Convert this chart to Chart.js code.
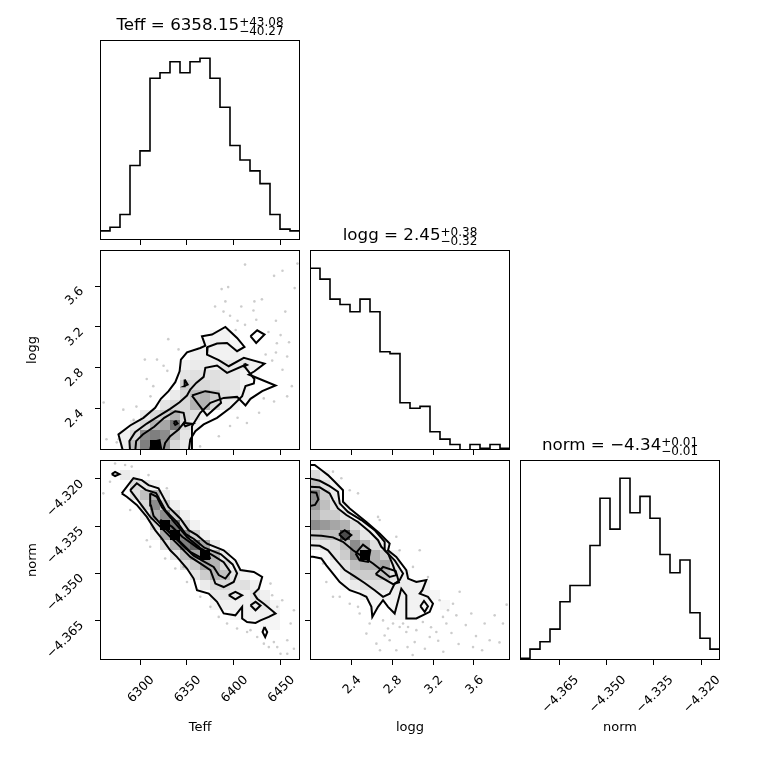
<!DOCTYPE html>
<html>
<head>
<meta charset="utf-8">
<title>corner plot</title>
<script src="https://cdn.jsdelivr.net/npm/chart.js@4.4.1/dist/chart.umd.min.js"></script>
<style>
  html, body { margin: 0; padding: 0; background: #fff; }
  #wrap { position: relative; width: 760px; height: 760px; overflow: hidden; }
  canvas { position: absolute; }
  .ttl { position: absolute; width: 200px; text-align: center; font-family: 'DejaVu Sans'; font-size: 16.7px; line-height: 20px; white-space: nowrap; color: #000; }
  .ss { display: inline-block; vertical-align: -5px; font-size: 12px; line-height: 9.5px; text-align: left; }
  .ss span { display: block; }
</style>
</head>
<body>
<div id="wrap">
  <canvas id="hTeff" width="310" height="310"></canvas>
  <canvas id="hLogg" width="310" height="310"></canvas>
  <canvas id="hNorm" width="310" height="310"></canvas>
  <canvas id="cTeffLogg" width="310" height="310"></canvas>
  <canvas id="cTeffNorm" width="310" height="310"></canvas>
  <canvas id="cLoggNorm" width="310" height="310"></canvas>
</div>
<script>
// parameter titles
const names = ['Teff', 'logg', 'norm'];
const medians = ['6358.15', '2.45', '\u22124.34'];
const errUp = ['+43.08', '+0.38', '+0.01'];
const errDown = ['\u221240.27', '\u22120.32', '\u22120.01'];

// axis ranges and ticks
const teffRange = [6257.1, 6470.7];
const loggRange = [1.995, 3.953];
const normRange = [-4.3776, -4.3140];
const teffTicks = [6300, 6350, 6400, 6450];
const teffTickLabels = ['6300', '6350', '6400', '6450'];
const loggTicks = [2.4, 2.8, 3.2, 3.6];
const loggTickLabels = ['2.4', '2.8', '3.2', '3.6'];
const normTicks = [-4.365, -4.350, -4.335, -4.320];
const normTickLabels = ['\u22124.365', '\u22124.350', '\u22124.335', '\u22124.320'];

// 1D histograms (20 bins each)
const teffCounts = [5, 7, 14, 41, 49, 89, 92, 98, 92, 98, 100, 89, 73, 52, 44, 38, 31, 14, 6, 5];
const loggCounts = [100, 94, 83, 80, 76, 83, 76, 54, 53, 26, 23, 24, 10, 6, 3, 0, 3, 1, 3, 1];
const normCounts = [1, 6, 10, 17, 32, 41, 41, 63, 89, 72, 100, 81, 90, 78, 58, 48, 55, 26, 12, 6];

// 2D density cells: [x bin, y bin, relative density]
const teffLoggCells = [
  [2,0,.08],[3,0,.25],[4,0,.5],[5,0,1],[6,0,.4],[7,0,.15],[8,0,.08],
  [2,1,.06],[3,1,.15],[4,1,.45],[5,1,.5],[6,1,.45],[7,1,.25],[8,1,.1],
  [3,2,.08],[4,2,.15],[5,2,.3],[6,2,.35],[7,2,.55],[8,2,.15],[9,2,.05],
  [4,3,.08],[5,3,.15],[6,3,.2],[7,3,.3],[8,3,.15],[9,3,.12],[10,3,.05],
  [6,4,.1],[7,4,.15],[8,4,.15],[9,4,.3],[10,4,.3],[11,4,.15],[12,4,.08],[13,4,.05],
  [7,5,.08],[8,5,.15],[9,5,.25],[10,5,.3],[11,5,.2],[12,5,.12],[13,5,.08],[14,5,.05],
  [8,6,.2],[9,6,.15],[10,6,.15],[11,6,.12],[12,6,.1],[13,6,.1],[14,6,.05],
  [8,7,.1],[9,7,.12],[10,7,.1],[11,7,.12],[12,7,.1],[13,7,.08],[14,7,.05],[15,7,.04],
  [8,8,.06],[9,8,.08],[10,8,.08],[11,8,.06],[12,8,.1],[13,8,.08],[14,8,.1],[15,8,.05],
  [9,9,.06],[10,9,.06],[11,9,.05],[12,9,.05],[13,9,.06],[14,9,.04],
  [10,10,.04],[11,10,.06],[12,10,.05],[13,10,.04],[11,11,.04],[12,11,.05]
];
const teffNormCells = [
  [2,18,.08],[3,18,.06],
  [3,17,.15],[4,17,.1],[5,17,.05],
  [3,16,.12],[4,16,.25],[5,16,.3],[6,16,.08],
  [4,15,.15],[5,15,.45],[6,15,.2],[7,15,.06],
  [4,14,.06],[5,14,.3],[6,14,.45],[7,14,.2],[8,14,.06],
  [5,13,.15],[6,13,1],[7,13,.55],[8,13,.15],[9,13,.05],
  [5,12,.06],[6,12,.35],[7,12,1],[8,12,.45],[9,12,.2],[10,12,.06],
  [6,11,.12],[7,11,.3],[8,11,.5],[9,11,.6],[10,11,.35],[11,11,.08],
  [7,10,.1],[8,10,.25],[9,10,.35],[10,10,1],[11,10,.3],[12,10,.08],
  [8,9,.12],[9,9,.2],[10,9,.35],[11,9,.3],[12,9,.15],[13,9,.05],
  [9,8,.1],[10,8,.2],[11,8,.3],[12,8,.25],[13,8,.1],[14,8,.05],
  [10,7,.08],[11,7,.15],[12,7,.15],[13,7,.1],[14,7,.12],[15,7,.06],
  [11,6,.08],[12,6,.1],[13,6,.08],[14,6,.06],[15,6,.1],[16,6,.06],
  [11,5,.04],[12,5,.06],[13,5,.06],[14,5,.06],[15,5,.08],[16,5,.1],[17,5,.04],
  [13,4,.04],[14,4,.05],[15,4,.05],[16,4,.06],[17,4,.05],[16,3,.04],[17,3,.04]
];
const loggNormCells = [
  [0,18,.15],[1,18,.06],
  [0,17,.25],[1,17,.12],[2,17,.05],
  [0,16,.45],[1,16,.2],[2,16,.08],
  [0,15,.4],[1,15,.25],[2,15,.12],[3,15,.06],
  [0,14,.3],[1,14,.2],[2,14,.2],[3,14,.1],
  [0,13,.45],[1,13,.4],[2,13,.35],[3,13,.3],[4,13,.12],[5,13,.05],
  [0,12,.2],[1,12,.25],[2,12,.25],[3,12,.7],[4,12,.25],[5,12,.1],[6,12,.05],
  [0,11,.08],[1,11,.1],[2,11,.15],[3,11,.25],[4,11,.45],[5,11,.3],[6,11,.12],[7,11,.06],
  [1,10,.05],[2,10,.1],[3,10,.2],[4,10,.45],[5,10,1],[6,10,.3],[7,10,.2],[8,10,.06],
  [2,9,.06],[3,9,.12],[4,9,.25],[5,9,.3],[6,9,.3],[7,9,.35],[8,9,.1],
  [3,8,.08],[4,8,.2],[5,8,.2],[6,8,.2],[7,8,.25],[8,8,.1],[9,8,.05],
  [3,7,.04],[4,7,.08],[5,7,.12],[6,7,.12],[7,7,.1],[8,7,.08],[9,7,.08],[10,7,.06],[11,7,.05],
  [5,6,.06],[6,6,.06],[7,6,.06],[8,6,.06],[9,6,.06],[10,6,.06],[11,6,.06],[12,6,.04],
  [6,5,.04],[8,5,.05],[9,5,.05],[10,5,.05],[11,5,.04],[13,5,.03],
  [8,4,.04],[9,4,.05],[10,4,.04]
];

// contour rings (outermost first), in data units
const teffLoggContours = [
  [[6282.1,1.97],[6276.8,2.147],[6289.3,2.235],[6303.5,2.310],[6316.0,2.408],[6322.1,2.496],[6330.3,2.571],[6337.5,2.659],[6342.1,2.766],[6343.5,2.880],[6350.0,2.952],[6364.2,2.994],[6369.6,3.017],[6366.0,3.109],[6376.7,3.125],[6391.0,3.200],[6403.5,3.092],[6411.4,3.004],[6403.5,2.962],[6392.8,3.043],[6382.1,3.037],[6372.1,3.004],[6371.4,2.929],[6383.9,2.874],[6394.6,2.815],[6410.7,2.897],[6432.8,2.841],[6422.1,2.766],[6416.0,2.734],[6444.6,2.626],[6430.3,2.571],[6417.8,2.496],[6412.5,2.431],[6403.5,2.515],[6389.2,2.505],[6375.0,2.457],[6364.2,2.359],[6355.3,2.228],[6355.3,1.97]],
  [[6289.3,1.97],[6288.5,2.082],[6294.6,2.170],[6307.1,2.254],[6319.6,2.326],[6332.1,2.398],[6342.1,2.463],[6350.0,2.528],[6353.5,2.587],[6359.9,2.652],[6367.8,2.711],[6369.6,2.799],[6382.1,2.822],[6392.8,2.750],[6410.7,2.822],[6422.0,2.690],[6421.4,2.646],[6412.5,2.620],[6408.9,2.522],[6396.4,2.408],[6382.1,2.310],[6367.8,2.245],[6358.9,2.179],[6353.5,2.098],[6351.7,1.97]],
  [[6294.6,1.97],[6295.7,2.082],[6302.8,2.147],[6315.0,2.222],[6325.7,2.310],[6337.5,2.375],[6346.4,2.359],[6348.2,2.277],[6341.0,2.196],[6332.1,2.131],[6326.7,2.065],[6324.2,1.97]],
  [[6355.3,2.528],[6369.6,2.571],[6383.9,2.548],[6386.4,2.457],[6371.4,2.333],[6362.5,2.440]],
  [[6310.0,1.97],[6312.5,2.072],[6320.7,2.091],[6323.2,1.97]],
  [[6335.7,2.267],[6338.2,2.277],[6340.0,2.254],[6337.5,2.241]],
  [[6345.7,2.261],[6355.3,2.251],[6348.2,2.228]],
  [[6347.5,2.685],[6350.7,2.636],[6347.1,2.620]],
  [[6411.4,2.841],[6414.2,2.828],[6411.4,2.815]],
  [[6417.8,3.109],[6425.0,3.167],[6432.8,3.125],[6423.9,3.043]]
];
const teffNormContours = [
  [[6280.3,-4.3246],[6292.8,-4.3198],[6301.8,-4.3204],[6308.9,-4.3220],[6319.6,-4.3230],[6330.3,-4.3289],[6342.8,-4.3326],[6351.7,-4.3363],[6360.7,-4.3379],[6371.4,-4.3406],[6389.2,-4.3427],[6401.7,-4.3459],[6407.1,-4.3490],[6421.4,-4.3496],[6430.3,-4.3512],[6426.7,-4.3549],[6421.4,-4.3565],[6425.0,-4.3581],[6432.1,-4.3597],[6444.6,-4.3628],[6437.4,-4.3639],[6428.5,-4.3650],[6423.2,-4.3658],[6414.2,-4.3655],[6408.9,-4.3644],[6408.9,-4.3607],[6401.7,-4.3634],[6389.2,-4.3628],[6382.1,-4.3591],[6373.2,-4.3565],[6360.7,-4.3554],[6357.1,-4.3517],[6350.0,-4.3485],[6339.2,-4.3448],[6332.1,-4.3427],[6323.2,-4.3390],[6316.0,-4.3363],[6307.1,-4.3321],[6296.4,-4.3283],[6285.7,-4.3257]],
  [[6289.3,-4.3236],[6296.4,-4.3214],[6306.0,-4.3235],[6317.0,-4.3245],[6327.4,-4.3302],[6339.9,-4.3339],[6348.8,-4.3376],[6357.8,-4.3392],[6368.5,-4.3419],[6386.3,-4.3440],[6398.8,-4.3472],[6403.5,-4.3500],[6399.9,-4.3528],[6389.2,-4.3544],[6380.3,-4.3533],[6375.0,-4.3490],[6364.2,-4.3469],[6353.5,-4.3448],[6342.8,-4.3416],[6332.1,-4.3384],[6321.4,-4.3352],[6310.7,-4.3321],[6300.0,-4.3278]],
  [[6310.7,-4.3246],[6317.8,-4.3257],[6323.2,-4.3290],[6335.7,-4.3335],[6350.0,-4.3385],[6364.2,-4.3420],[6378.5,-4.3445],[6389.2,-4.3465],[6396.4,-4.3496],[6391.0,-4.3517],[6383.9,-4.3506],[6378.5,-4.3480],[6367.8,-4.3462],[6357.1,-4.3444],[6346.4,-4.3414],[6335.7,-4.3383],[6323.2,-4.3348],[6314.3,-4.3318],[6311.5,-4.3285]],
  [[6321.5,-4.3330],[6333.9,-4.3352],[6345.0,-4.3384],[6360.7,-4.3418],[6373.2,-4.3440],[6374.5,-4.3452],[6367.8,-4.3455],[6353.5,-4.3432],[6341.0,-4.3395],[6330.3,-4.3365],[6322.5,-4.3345]],
  [[6269.6,-4.3185],[6273.2,-4.3178],[6277.8,-4.3185],[6273.2,-4.3191]],
  [[6394.6,-4.3570],[6401.7,-4.3559],[6408.9,-4.3570],[6401.7,-4.3583]],
  [[6417.8,-4.3602],[6423.2,-4.3591],[6428.5,-4.3603],[6423.2,-4.3618]],
  [[6432.8,-4.3671],[6435.7,-4.3687],[6433.5,-4.3703],[6430.7,-4.3687]]
];
const loggNormContours = [
  [[1.98,-4.3156],[2.041,-4.3156],[2.106,-4.3172],[2.171,-4.3188],[2.237,-4.3209],[2.318,-4.3236],[2.318,-4.3273],[2.384,-4.3294],[2.547,-4.3337],[2.677,-4.3374],[2.775,-4.3406],[2.759,-4.3427],[2.840,-4.3448],[2.938,-4.3490],[2.955,-4.3517],[3.036,-4.3528],[3.134,-4.3522],[3.095,-4.3554],[3.069,-4.3565],[3.150,-4.3575],[3.199,-4.3597],[3.167,-4.3623],[3.036,-4.3644],[2.938,-4.3644],[2.938,-4.3570],[2.889,-4.3549],[2.824,-4.3628],[2.759,-4.3607],[2.710,-4.3586],[2.661,-4.3607],[2.605,-4.3639],[2.596,-4.3607],[2.547,-4.3575],[2.481,-4.3565],[2.384,-4.3554],[2.286,-4.3528],[2.220,-4.3501],[2.155,-4.3475],[2.106,-4.3453],[2.025,-4.3448],[1.98,-4.3448]],
  [[1.98,-4.3198],[2.090,-4.3206],[2.188,-4.3223],[2.269,-4.3241],[2.286,-4.3278],[2.367,-4.3305],[2.498,-4.3331],[2.628,-4.3363],[2.726,-4.3400],[2.726,-4.3427],[2.824,-4.3459],[2.906,-4.3501],[2.873,-4.3522],[2.824,-4.3533],[2.775,-4.3565],[2.710,-4.3575],[2.628,-4.3554],[2.530,-4.3531],[2.432,-4.3510],[2.335,-4.3490],[2.253,-4.3459],[2.171,-4.3427],[2.090,-4.3413],[1.98,-4.3411]],
  [[1.98,-4.3225],[2.090,-4.3227],[2.188,-4.3246],[2.220,-4.3267],[2.269,-4.3294],[2.351,-4.3315],[2.465,-4.3337],[2.579,-4.3368],[2.661,-4.3395],[2.693,-4.3416],[2.759,-4.3437],[2.808,-4.3475],[2.840,-4.3506],[2.775,-4.3512],[2.693,-4.3490],[2.612,-4.3469],[2.514,-4.3448],[2.416,-4.3427],[2.318,-4.3400],[2.220,-4.3386],[2.106,-4.3381],[1.98,-4.3379]],
  [[1.98,-4.3241],[2.057,-4.3244],[2.077,-4.3265],[2.044,-4.3283],[1.98,-4.3287]],
  [[2.279,-4.3376],[2.335,-4.3363],[2.400,-4.3379],[2.341,-4.3395]],
  [[2.442,-4.3437],[2.514,-4.3409],[2.586,-4.3427],[2.563,-4.3464],[2.481,-4.3459]],
  [[2.638,-4.3503],[2.710,-4.3480],[2.834,-4.3493],[2.866,-4.3529],[2.808,-4.3535]],
  [[3.075,-4.3605],[3.111,-4.3588],[3.150,-4.3605],[3.118,-4.3623]]
];

// scattered samples outside the contours
const teffLoggDots = [[6412,3.81],[6468,3.82],[6443,3.70],[6452,3.75],[6387,3.57],[6394,3.59],[6465,3.58],[6391,3.45],[6422,3.45],[6430,3.47],[6389,3.35],[6421,3.36],[6424,3.27],[6396,3.31],[6404,3.26],[6445,3.26],[6402,3.17],[6412,3.22],[6330,3.08],[6446,3.04],[6459,3.05],[6457,2.91],[6445,2.95],[6434,2.93],[6441,2.87],[6452,2.78],[6462,2.62],[6307,2.69],[6314,2.62],[6329,2.77],[6341,2.98],[6325,2.82],[6443,2.47],[6432,2.50],[6457,2.52],[6427,2.36],[6261,2.46],[6282,2.39],[6277,2.10],[6264,2.10],[6275,2.07],[6293,2.29],[6296,2.42],[6384,2.13],[6404,2.31],[6414,2.26],[6396,2.23],[6364,2.03],[6311,2.52],[6305,2.88],[6318,2.88],[6437,3.15],[6450,3.12],[6380,3.40],[6408,3.40],[6455,3.35]];
const teffNormDots = [[6273.2,-4.3151],[6283.9,-4.3156],[6291.0,-4.3161],[6267.8,-4.3209],[6260.7,-4.3246],[6308.9,-4.3188],[6328.5,-4.3230],[6289.3,-4.3299],[6310.7,-4.3416],[6307.1,-4.3395],[6326.7,-4.3453],[6337.5,-4.3485],[6350.0,-4.3528],[6364.2,-4.3575],[6375.0,-4.3607],[6383.9,-4.3639],[6392.8,-4.3660],[6403.5,-4.3676],[6417.8,-4.3681],[6432.1,-4.3724],[6442.8,-4.3719],[6446.4,-4.3735],[6457.1,-4.3713],[6460.7,-4.3660],[6464.2,-4.3618],[6451.7,-4.3586],[6439.2,-4.3533],[6441.0,-4.3570],[6446.4,-4.3607],[6464.2,-4.3740],[6449.9,-4.3756],[6346.4,-4.3480],[6414.2,-4.3687],[6425.0,-4.3703],[6437.4,-4.3735],[6457.1,-4.3756]];
const loggNormDots = [[2.220,-4.3177],[2.302,-4.3198],[2.384,-4.3236],[2.465,-4.3246],[2.661,-4.3321],[2.677,-4.3331],[2.840,-4.3384],[2.873,-4.3427],[3.069,-4.3427],[3.003,-4.3480],[3.150,-4.3512],[3.264,-4.3586],[3.346,-4.3618],[3.460,-4.3559],[3.428,-4.3634],[3.330,-4.3660],[3.232,-4.3687],[3.036,-4.3681],[3.020,-4.3719],[2.938,-4.3687],[2.873,-4.3671],[2.808,-4.3660],[2.726,-4.3698],[2.645,-4.3724],[2.775,-4.3713],[3.574,-4.3628],[3.591,-4.3735],[3.705,-4.3660],[3.803,-4.3634],[3.754,-4.3713],[3.884,-4.3660],[2.123,-4.3469],[2.220,-4.3575],[2.155,-4.3528],[2.286,-4.3575],[2.384,-4.3597],[2.481,-4.3628],[2.465,-4.3607],[2.579,-4.3660],[2.547,-4.3692],[3.297,-4.3639],[3.395,-4.3597],[3.167,-4.3703],[2.840,-4.3745],[2.710,-4.3650],[2.906,-4.3660],[2.955,-4.3671],[2.759,-4.3676],[3.10,-4.3655],[3.18,-4.3672],[3.25,-4.3715],[3.38,-4.3690],[3.45,-4.3725],[3.52,-4.3665],[3.62,-4.3700],[3.68,-4.3745],[3.85,-4.3720],[3.92,-4.3600],[3.00,-4.3760],[2.95,-4.3735],[3.30,-4.3750],[3.12,-4.3740],[2.68,-4.3745]];

const TICK_PX = 12.5;
const LABEL_FONT = { family: 'DejaVu Sans', size: 13 };
const COL = [100, 310, 520], ROW = [40, 250, 460];

const framePlugin = {
  id: 'frame',
  afterDatasetsDraw(chart) {
    const a = chart.chartArea, ctx = chart.ctx;
    ctx.save();
    ctx.strokeStyle = '#000';
    ctx.lineWidth = 1;
    ctx.strokeRect(a.left + 0.5, a.top + 0.5, a.width - 1, a.height - 1);
    ctx.restore();
  }
};

// rotated tick labels placed like matplotlib (bbox centred under x ticks, right-aligned at y ticks)
function tickTextPlugin(xs, ys) {
  return {
    id: 'tickText',
    afterDraw(chart) {
      const ctx = chart.ctx, a = chart.chartArea;
      const h = 0.73 * TICK_PX;
      ctx.save();
      ctx.fillStyle = '#000';
      ctx.font = TICK_PX + 'px "DejaVu Sans"';
      ctx.textAlign = 'center';
      ctx.textBaseline = 'alphabetic';
      const put = (txt, cx, cy) => {
        ctx.save(); ctx.translate(cx, cy); ctx.rotate(-Math.PI / 4);
        ctx.fillText(txt, 0, h / 2); ctx.restore();
      };
      const box = txt => (ctx.measureText(txt).width + h) * Math.SQRT1_2;
      if (xs) xs.ticks.forEach((v, i) => {
        const bw = box(xs.labels[i]);
        put(xs.labels[i], chart.scales.x.getPixelForValue(v), a.bottom + 14 + bw / 2);
      });
      if (ys) ys.ticks.forEach((v, i) => {
        const bw = box(ys.labels[i]);
        put(ys.labels[i], a.left - 16 - bw / 2, chart.scales.y.getPixelForValue(v) - 1 + bw / 2);
      });
      ctx.restore();
    }
  };
}

function xAxis(range, ticks, title) {
  return {
    type: 'linear', position: 'bottom', min: range[0], max: range[1],
    afterBuildTicks: s => { s.ticks = ticks.map(v => ({ value: v })); },
    afterFit: s => { s.height = 100; s.paddingLeft = 0; s.paddingRight = 0; },
    border: { display: false },
    grid: { display: true, drawOnChartArea: false, drawTicks: true, tickLength: 5, tickColor: '#000', tickWidth: 1 },
    ticks: { display: false },
    title: { display: !!title, text: title || '', color: '#000', font: LABEL_FONT, padding: { top: 0, bottom: 25 } }
  };
}

function yAxis(range, ticks, title) {
  return {
    type: 'linear', position: 'left', min: range[0], max: range[1],
    afterBuildTicks: s => { s.ticks = ticks.map(v => ({ value: v })); },
    afterFit: s => { s.width = 100; s.paddingTop = 0; s.paddingBottom = 0; },
    border: { display: false },
    grid: { display: true, drawOnChartArea: false, drawTicks: true, tickLength: 5, tickColor: '#000', tickWidth: 1 },
    ticks: { display: false },
    title: { display: !!title, text: title || '', color: '#000', font: LABEL_FONT, padding: { top: 25, bottom: 0 } }
  };
}

function histY(counts) {
  return {
    type: 'linear', position: 'left', min: 0, max: 1.1 * Math.max(...counts),
    afterFit: s => { s.width = 100; s.paddingTop = 0; s.paddingBottom = 0; },
    border: { display: false }, grid: { display: false }, ticks: { display: false }
  };
}

function histSets(range, counts) {
  const w = (range[1] - range[0]) / counts.length;
  const pts = [{ x: range[0], y: 0 }];
  counts.forEach((c, i) => pts.push({ x: range[0] + i * w, y: c }));
  pts.push({ x: range[1], y: counts[counts.length - 1] }, { x: range[1], y: 0 });
  return [{ data: pts, showLine: true, stepped: 'before', borderColor: '#000', borderWidth: 1.6, pointRadius: 0, fill: false }];
}

const toXY = p => ({ x: p[0], y: p[1] });
const ring = pts => pts.concat([pts[0]]).map(toXY);

function densitySets(xr, yr, cells, dots, contours) {
  const wx = (xr[1] - xr[0]) / 20, wy = (yr[1] - yr[0]) / 20;
  const lines = contours.map(c => ({ data: ring(c), showLine: true, borderColor: '#000', borderWidth: 2,
                                     pointRadius: 0, fill: false, order: 0 }));
  return lines.concat([
    { data: cells.map(([i, j, v]) => ({ x: xr[0] + (i + 0.5) * wx, y: yr[0] + (j + 0.5) * wy, v })),
      pointStyle: 'rect', pointRadius: 7.1, pointBorderWidth: 0,
      pointBackgroundColor: c => c.raw ? 'rgba(0,0,0,' + c.raw.v + ')' : 'rgba(0,0,0,0)', order: 1 },
    { data: ring(contours[0]), showLine: true, fill: 'shape', backgroundColor: '#fff',
      borderColor: 'rgba(0,0,0,0)', pointRadius: 0, order: 2 },
    { data: dots.map(toXY), pointRadius: 1.3, pointBorderWidth: 0, pointBackgroundColor: 'rgba(0,0,0,0.2)', order: 3 }
  ]);
}

function makePanel(id, col, row, datasets, x, y, xs, ys) {
  const cv = document.getElementById(id);
  cv.style.left = (COL[col] - 100) + 'px';
  cv.style.top = (ROW[row] - 10) + 'px';
  new Chart(cv, {
    type: 'scatter',
    data: { datasets },
    options: {
      responsive: false, animation: false, events: [],
      layout: { padding: { left: 0, top: 10, right: 10, bottom: 0 } },
      plugins: { legend: { display: false }, tooltip: { enabled: false } },
      scales: { x, y }
    },
    plugins: [framePlugin, tickTextPlugin(xs, ys)]
  });
}

const teffLab = { ticks: teffTicks, labels: teffTickLabels };
const loggLab = { ticks: loggTicks, labels: loggTickLabels };
const normLab = { ticks: normTicks, labels: normTickLabels };

// diagonal histograms
makePanel('hTeff', 0, 0, histSets(teffRange, teffCounts),
  xAxis(teffRange, teffTicks), histY(teffCounts), null, null);
makePanel('hLogg', 1, 1, histSets(loggRange, loggCounts),
  xAxis(loggRange, loggTicks), histY(loggCounts), null, null);
makePanel('hNorm', 2, 2, histSets(normRange, normCounts),
  xAxis(normRange, normTicks, 'norm'), histY(normCounts), normLab, null);

// 2D panels
makePanel('cTeffLogg', 0, 1, densitySets(teffRange, loggRange, teffLoggCells, teffLoggDots, teffLoggContours),
  xAxis(teffRange, teffTicks), yAxis(loggRange, loggTicks, 'logg'), null, loggLab);
makePanel('cTeffNorm', 0, 2, densitySets(teffRange, normRange, teffNormCells, teffNormDots, teffNormContours),
  xAxis(teffRange, teffTicks, 'Teff'), yAxis(normRange, normTicks, 'norm'), teffLab, normLab);
makePanel('cLoggNorm', 1, 2, densitySets(loggRange, normRange, loggNormCells, loggNormDots, loggNormContours),
  xAxis(loggRange, loggTicks, 'logg'), yAxis(normRange, normTicks), loggLab, null);

// titles with asymmetric errors
const wrap = document.getElementById('wrap');
names.forEach((n, k) => {
  const d = document.createElement('div');
  d.className = 'ttl';
  d.style.left = COL[k] + 'px';
  d.style.top = (ROW[k] - 26) + 'px';
  d.innerHTML = n + ' = ' + medians[k] + '<span class="ss"><span>' + errUp[k] + '</span><span>' + errDown[k] + '</span></span>';
  wrap.appendChild(d);
});
</script>
</body>
</html>
